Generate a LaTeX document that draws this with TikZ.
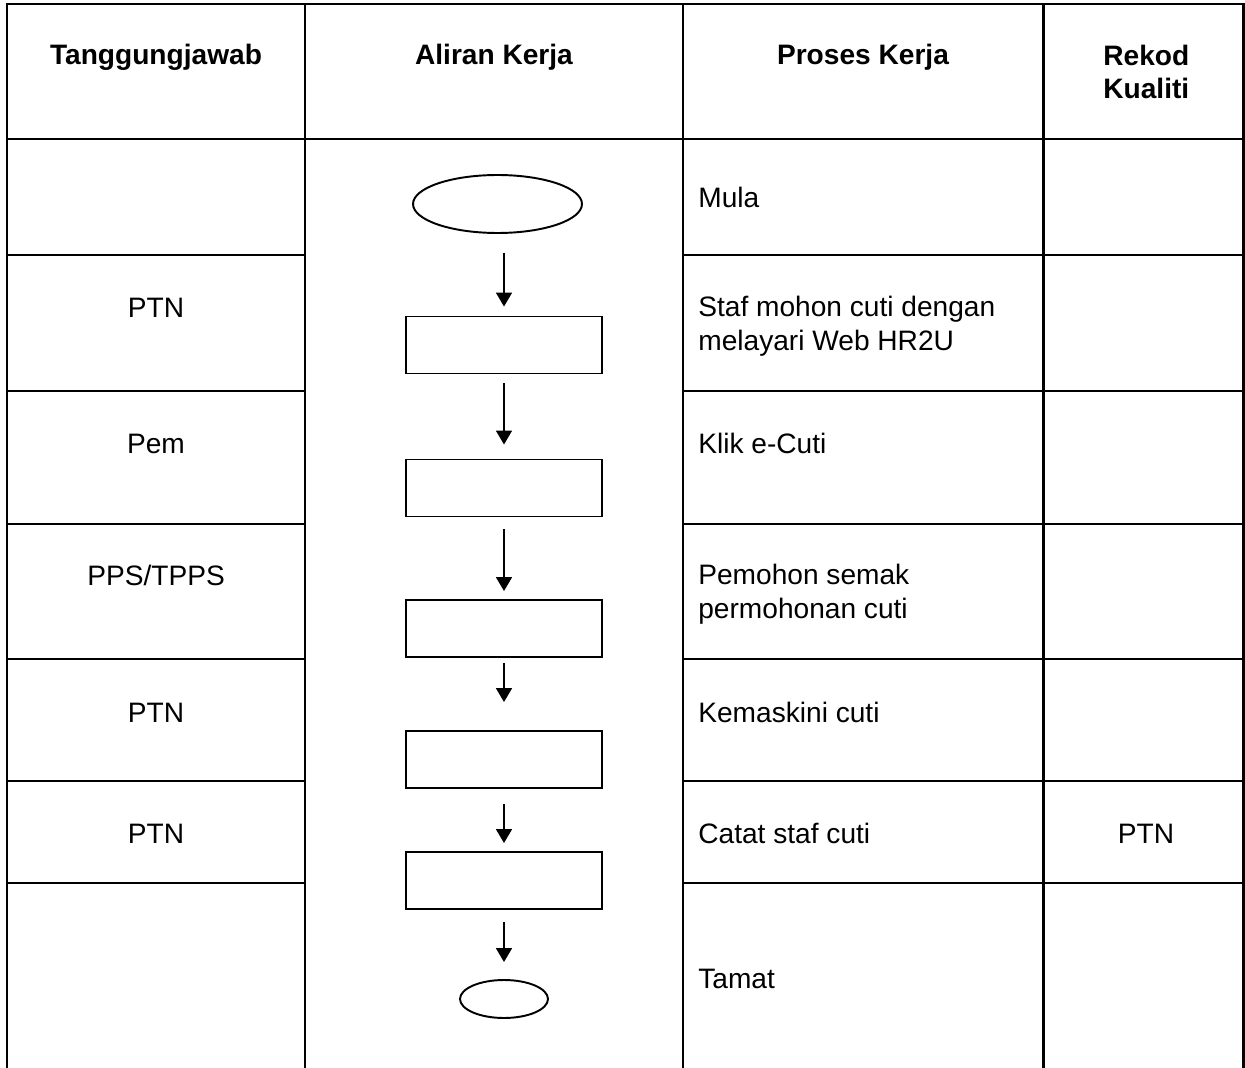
\documentclass[tikz,border=0pt]{standalone}
\usepackage{fontspec}
\setmainfont{Liberation Sans}
\usetikzlibrary{arrows.meta,positioning,shapes.geometric}

\tikzset{
  grid/.style={line width=1.7pt},
  head/.style={font=\fontsize{16}{18.8}\selectfont\bfseries,inner sep=0pt,align=left},
  body/.style={font=\fontsize{16}{18.8}\selectfont,inner sep=0pt,align=left},
  stepbox/.style={draw,line width=1.1pt,minimum width=3.92cm,minimum height=1.14cm,inner sep=0pt},
  terminal/.style={draw,ellipse,line width=1.1pt,inner sep=0pt},
  flow/.style={line width=1pt,-{Triangle[length=0.28cm,width=0.32cm]}}
}

\begin{document}
\begin{tikzpicture}[x=0.02cm,y=-0.02cm]
  \useasboundingbox (0,0) rectangle (1245,1068);
  % table frame and columns
  \draw[grid] (7,1072) -- (7,4) -- (1243,4) -- (1243,1072);
  \foreach \x in {305,683,1043}
    \draw[grid] (\x,4) -- (\x,1072);
  \draw[grid] (7,139) -- (1243,139);
  % row rules (the flow column has none)
  \foreach \y in {255,391,524,659,781,883}{
    \draw[grid] (7,\y) -- (305,\y);
    \draw[grid] (683,\y) -- (1243,\y);
  }
  % headings (two-line nodes sit on their last line)
  \node[head,anchor=base] (hdresp) at (156,65) {Tanggungjawab};
  \node[head,anchor=base] (hdflow) at (494,65) {Aliran Kerja};
  \node[head,anchor=base] (hdproc) at (863,65) {Proses Kerja};
  \node[head,anchor=base west] (hdrec) at (1103,99) {Rekod\\Kualiti};
  % who is responsible
  \foreach \y/\t [count=\i] in {317/PTN, 453/Pem, 585/{PPS/TPPS}, 722/PTN, 843/PTN}
    \node[body,anchor=base] (resp\i) at (156,\y) {\t};
  % work steps
  \foreach \y/\t [count=\i] in {208/Mula, 350/{Staf mohon cuti dengan\\melayari Web HR2U},
      453/{Klik e-Cuti}, 618/{Pemohon semak\\permohonan cuti}, 722/{Kemaskini cuti},
      843/{Catat staf cuti}, 988/Tamat}
    \node[body,anchor=base west] (proc\i) at (698,\y) {\t};
  % quality record
  \node[body,anchor=base] (rec1) at (1146,843) {PTN};
  % flow chart
  \node[terminal,minimum width=3.38cm,minimum height=1.16cm] (start) at (497.5,204) {};
  \foreach \y [count=\i] in {345,488,628.5,759.5,880.5}
    \node[stepbox] (s\i) at (504,\y) {};
  \node[terminal,minimum width=1.76cm,minimum height=0.76cm] (stop) at (504,999) {};
  \foreach \a/\b/\p/\q in {start/s1/0.38/0.18, s1/s2/0.18/0.28, s2/s3/0.24/0.16,
      s3/s4/0.1/0.56, s4/s5/0.3/0.16, s5/stop/0.24/0.34}
    \draw[flow,shorten <=\p cm,shorten >=\q cm] (\a.south -| s1.north) -- (\b.north -| s1.north);
\end{tikzpicture}
\end{document}
